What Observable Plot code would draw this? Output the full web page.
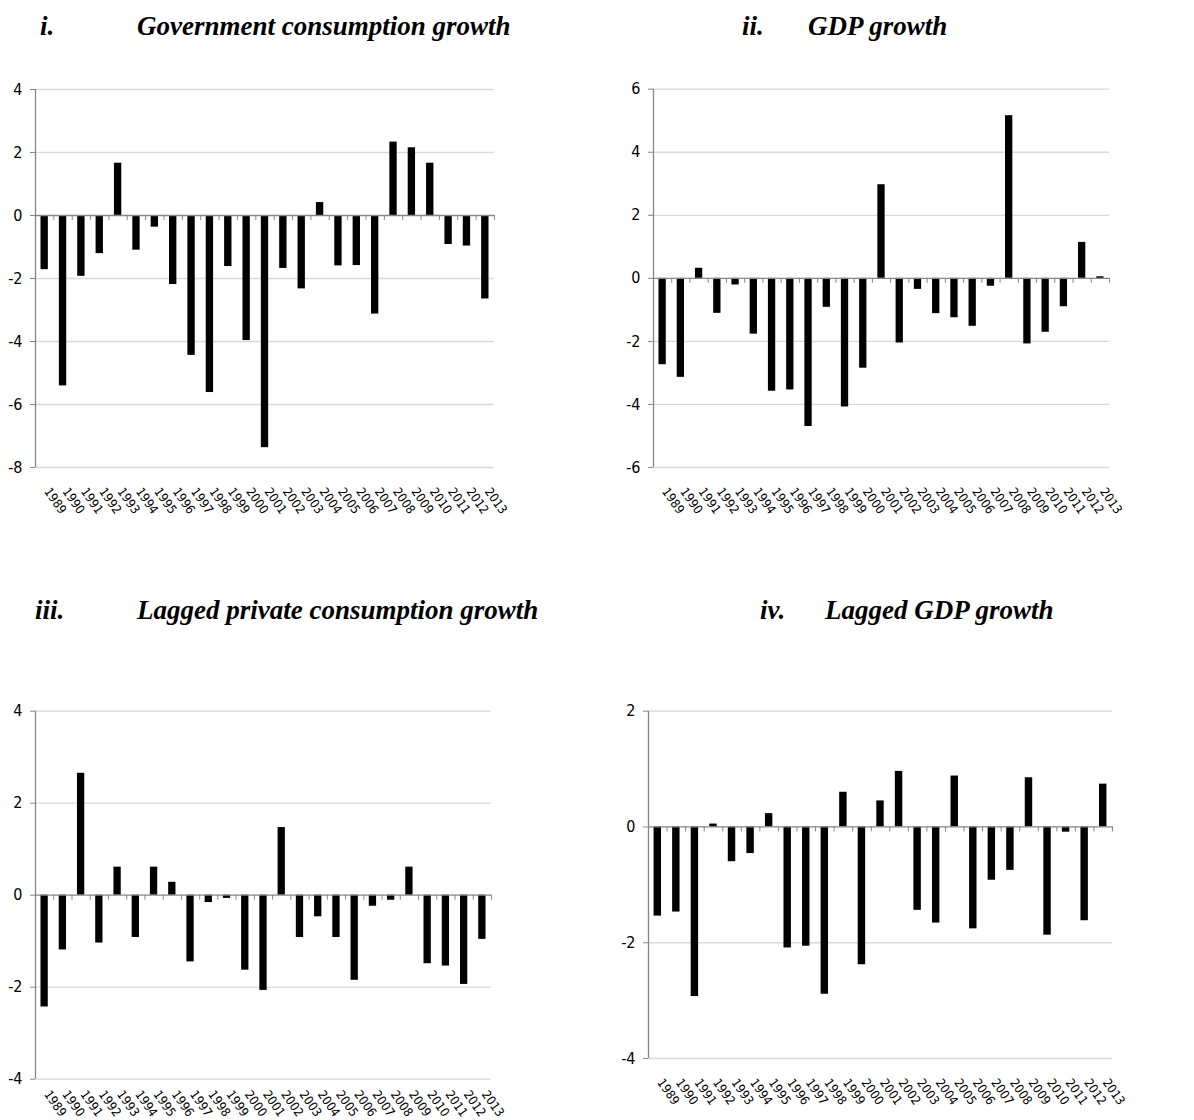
<!DOCTYPE html>
<html>
<head>
<meta charset="utf-8">
<script src="https://cdn.jsdelivr.net/npm/d3@7"></script>
<script src="https://cdn.jsdelivr.net/npm/@observablehq/plot@0.6"></script>
<style>
  html, body { margin: 0; padding: 0; background: #fff; }
  #page { position: relative; width: 1194px; height: 1120px; background: #fff; overflow: hidden; }
  .ttl { position: absolute; font-family: "Liberation Serif", "Times New Roman", serif; font-weight: bold; font-style: italic; font-size: 27px; color: #000; white-space: nowrap; line-height: 1; }
  .panel { position: absolute; }
</style>
</head>
<body>
<div id="page"></div>
<script>
const years = [1989,1990,1991,1992,1993,1994,1995,1996,1997,1998,1999,2000,2001,2002,2003,2004,2005,2006,2007,2008,2009,2010,2011,2012,2013];

const govCons = [-1.72,-5.41,-1.93,-1.21,1.66,-1.10,-0.37,-2.19,-4.44,-5.62,-1.62,-3.97,-7.37,-1.68,-2.33,0.41,-1.60,-1.59,-3.13,2.33,2.15,1.66,-0.92,-0.97,-2.65];
const gdp = [-2.74,-3.14,0.32,-1.11,-0.21,-1.77,-3.58,-3.54,-4.70,-0.92,-4.08,-2.85,2.97,-2.05,-0.35,-1.12,-1.25,-1.52,-0.25,5.16,-2.08,-1.71,-0.90,1.14,0.05];
const lagPriv = [-2.43,-1.19,2.65,-1.04,0.61,-0.92,0.61,0.28,-1.45,-0.16,-0.07,-1.63,-2.07,1.47,-0.92,-0.47,-0.92,-1.85,-0.24,-0.11,0.61,-1.49,-1.54,-1.94,-0.96];
const lagGdp = [-1.54,-1.47,-2.93,0.05,-0.60,-0.46,0.23,-2.09,-2.06,-2.89,0.60,-2.38,0.45,0.96,-1.44,-1.66,0.88,-1.76,-0.92,-0.75,0.85,-1.87,-0.09,-1.62,0.74];

const ticksI = [4,2,0,-2,-4,-6,-8];
const ticksII = [6,4,2,0,-2,-4,-6];
const ticksIII = [4,2,0,-2,-4];
const ticksIV = [2,0,-2,-4];

const titles = [
  {num: "i.", text: "Government consumption growth"},
  {num: "ii.", text: "GDP growth"},
  {num: "iii.", text: "Lagged private consumption growth"},
  {num: "iv.", text: "Lagged GDP growth"}
];

const page = document.getElementById("page");
const AXIS = "#868686", GRID = "#d9d9d9";
const FONT = "'Liberation Sans Narrow', 'DejaVu Sans Condensed', 'Open Sans', sans-serif";

function panel(values, ticks, box) {
  const table = years.map((y, i) => ({year: y, value: values[i]}));
  const bounds = [years[0] - 0.5, ...years.map(y => y + 0.5)];
  const half = 0.2;
  const chart = Plot.plot({
    width: box.w,
    height: box.mt + box.fh + box.mb,
    marginLeft: box.ml,
    marginRight: box.w - box.ml - box.fw,
    marginTop: box.mt,
    marginBottom: box.mb,
    style: {fontFamily: FONT, background: "transparent", color: "#000"},
    x: {type: "linear", domain: [years[0] - 0.5, years[years.length - 1] + 0.5], axis: null},
    y: {domain: [d3.min(ticks), d3.max(ticks)], axis: null},
    marks: [
      Plot.ruleY(ticks.filter(t => t !== 0), {stroke: GRID, strokeWidth: 1.3}),
      Plot.rectY(table, {x1: d => d.year - half, x2: d => d.year + half, y: "value", fill: "#000"}),
      Plot.ruleY([0], {stroke: AXIS, strokeWidth: 1.3}),
      Plot.ruleX(bounds, {x: d => d, y1: 0, y2: 0, insetBottom: -5, stroke: AXIS}),
      Plot.ruleX([years[0] - 0.5], {stroke: AXIS, strokeWidth: 1.3}),
      Plot.axisY(ticks, {tickSize: 5, tickPadding: 8, stroke: AXIS, fill: "#000", fontSize: 16, label: null, tickFormat: d => String(d)}),
      Plot.text(years, {x: d => d, frameAnchor: "bottom", text: d => String(d), rotate: 55, textAnchor: "start", dy: box.ldy, dx: -1, fontSize: 12.5, fill: "#000"})
    ]
  });
  chart.classList.add("panel");
  chart.style.left = box.left + "px";
  chart.style.top = box.top + "px";
  page.appendChild(chart);
}

panel(govCons, ticksI, {left: 0, top: 60, w: 597, ml: 35, fw: 459, mt: 29, fh: 378, mb: 80, ldy: 24});
panel(gdp, ticksII, {left: 597, top: 60, w: 597, ml: 56, fw: 456, mt: 28.7, fh: 378.3, mb: 80, ldy: 24});
panel(lagPriv, ticksIII, {left: 0, top: 680, w: 597, ml: 35, fw: 456, mt: 30.7, fh: 368, mb: 40, ldy: 15});
panel(lagGdp, ticksIV, {left: 597, top: 680, w: 597, ml: 51, fw: 464, mt: 30.7, fh: 347.3, mb: 70, ldy: 24});

const titlePos = [
  {nx: 40, tx: 137, y: 13},
  {nx: 742, tx: 808, y: 13},
  {nx: 35, tx: 137, y: 597},
  {nx: 760, tx: 825, y: 597}
];
titles.forEach((t, i) => {
  const p = titlePos[i];
  const a = document.createElement("div");
  a.className = "ttl"; a.textContent = t.num;
  a.style.left = p.nx + "px"; a.style.top = p.y + "px";
  const b = document.createElement("div");
  b.className = "ttl"; b.textContent = t.text;
  b.style.left = p.tx + "px"; b.style.top = p.y + "px";
  page.appendChild(a); page.appendChild(b);
});
</script>
</body>
</html>
